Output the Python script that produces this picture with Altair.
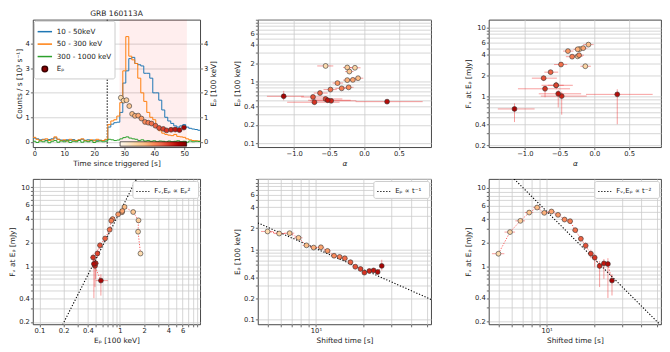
import json
import altair as alt
import pandas as pd

FONT = "DejaVu Sans"
BLUE, ORANGE, GREEN = "#1f77b4", "#ff7f0e", "#2ca02c"
ERR_RED = "#ee3b3b"
GRID = "#cbcbcb"
EDGE = "#333333"

# ---------------- light curves (panel 1) ----------------
lc_time = [-0.5, 0.5, 1.5, 2.5, 3.5, 4.5, 5.5, 6.5, 7.5, 8.5, 9.5, 10.5, 11.5, 12.5,
           13.5, 14.5, 15.5, 16.5, 17.5, 18.5, 19.5, 20.5, 21.5, 22.5, 23.5, 24.5,
           25.5, 26.5, 27.5, 28.5, 29.5, 30.5, 31.5, 32.5, 33.5, 34.5, 35.5, 36.5,
           37.5, 38.5, 39.5, 40.5, 41.5, 42.5, 43.5, 44.5, 45.5, 46.5, 47.5, 48.5,
           49.5, 50.5, 51.5, 52.5, 53.5, 54.5, 55.5]
lc_soft = [0.15, 0.12, 0.08, 0.10, 0.06, 0.09, 0.12, 0.16, 0.10, 0.07, 0.05, 0.08, 0.06,
           0.09, 0.05, 0.07, 0.10, 0.06, 0.08, 0.05, 0.07, 0.04, 0.06, 0.05, 0.08,
           0.60, 0.72, 0.78, 0.80, 1.20, 2.40, 2.90, 3.40, 3.45, 3.20, 3.15, 3.10, 2.80,
           2.80, 2.60, 2.00, 2.00, 1.70, 1.30, 1.00, 0.85, 0.75, 0.65, 0.60, 0.65, 0.70,
           0.60, 0.55, 0.52, 0.50, 0.47, 0.47]
lc_mid = [0.18, 0.10, 0.05, 0.08, 0.12, 0.05, 0.08, 0.20, 0.10, 0.05, 0.08, 0.03, 0.10,
          0.06, 0.04, 0.08, 0.12, 0.05, 0.03, 0.08, 0.04, 0.10, 0.06, 0.05, 0.10,
          0.70, 0.85, 0.90, 1.05, 1.60, 2.90, 4.30, 3.50, 3.35, 3.20, 2.60, 2.00, 1.65,
          1.20, 1.00, 0.90, 0.60, 0.45, 0.35, 0.30, 0.27, 0.25, 0.30, 0.22, 0.20, 0.18,
          0.12, 0.08, 0.05, 0.04, 0.03, 0.03]
lc_hard = [0.02, -0.03, 0.03, 0.00, 0.04, -0.04, 0.02, 0.05, -0.02, 0.03, 0.00, 0.04, -0.03,
           0.02, 0.00, 0.05, -0.02, 0.03, 0.00, 0.04, -0.03, 0.02, 0.03, 0.00, 0.02,
           0.10, 0.08, 0.05, 0.07, 0.12, 0.17, 0.20, 0.15, 0.12, 0.10, 0.05, 0.08, 0.03,
           0.05, 0.02, 0.04, 0.00, 0.03, 0.02, -0.01, 0.03, 0.00, 0.02, 0.04, 0.00, 0.02,
           -0.02, 0.03, 0.00, 0.02, 0.01, 0.01]
bands = ["10 - 50keV", "50 - 300 keV", "300 - 1000 keV"]

trigger_line = [24.3]
window = [28.4, 50.9]
cbar_x = [28.6, 50.8]
cbar_y = [0.0, -0.18]

# ---------------- time-resolved spectral fits (19 intervals) ----------------
idx = [0, 1, 2, 3, 4, 5, 6, 7, 8, 9, 10, 11, 12, 13, 14, 15, 16, 17, 18]
t_trig = [28.85, 29.76, 30.72, 31.66, 32.61, 33.57, 34.64, 35.72, 36.90, 38.00,
          39.10, 40.40, 41.60, 43.00, 44.10, 45.60, 47.00, 48.40, 49.90]
t_shift = [4.95, 5.86, 6.82, 7.76, 8.71, 9.67, 10.74, 11.82, 13.0, 14.1,
           15.2, 16.5, 17.7, 19.1, 20.2, 21.7, 23.1, 24.5, 26.0]
t_half = [0.45, 0.45, 0.48, 0.47, 0.48, 0.50, 0.54, 0.56, 0.57, 0.55,
          0.60, 0.62, 0.65, 0.62, 0.65, 0.70, 0.70, 0.70, 0.75]
ep = [1.80, 1.68, 1.70, 1.46, 1.14, 1.06, 1.07, 0.95, 0.81, 0.78,
      0.745, 0.655, 0.565, 0.525, 0.465, 0.49, 0.50, 0.475, 0.58]
ep_lo = [1.70, 1.60, 1.62, 1.40, 1.10, 1.02, 1.03, 0.91, 0.78, 0.75,
         0.71, 0.62, 0.53, 0.49, 0.43, 0.45, 0.46, 0.44, 0.50]
ep_hi = [1.90, 1.76, 1.78, 1.52, 1.18, 1.10, 1.11, 0.99, 0.84, 0.81,
         0.78, 0.69, 0.60, 0.56, 0.50, 0.53, 0.54, 0.51, 0.71]
alpha = [-0.55, -0.13, -0.24, -0.21, -0.085, -0.24, -0.16, -0.38, -0.22, -0.32,
         -0.48, -0.63, -0.73, -0.55, -0.71, -0.47, -0.52, 0.33, -1.15]
a_lo = [-0.67, -0.20, -0.30, -0.27, -0.16, -0.30, -0.22, -0.45, -0.29, -0.41,
        -0.58, -0.72, -0.90, -0.76, -1.10, -0.77, -0.80, -0.12, -1.39]
a_hi = [-0.44, -0.05, -0.17, -0.15, -0.01, -0.17, -0.10, -0.30, -0.15, -0.24,
        -0.39, -0.52, -0.54, -0.31, -0.35, -0.11, -0.19, 0.84, -0.86]
fnu = [1.46, 2.75, 3.82, 4.87, 5.64, 4.83, 5.02, 4.55, 3.97, 3.78,
       2.91, 2.26, 1.85, 1.46, 1.30, 1.02, 1.10, 1.08, 0.665]
f_lo = [1.36, 2.62, 3.65, 4.68, 5.42, 4.63, 4.80, 4.33, 3.75, 3.57,
        2.72, 2.10, 1.68, 1.28, 0.98, 0.55, 0.70, 0.40, 0.43]
f_hi = [1.56, 2.88, 3.99, 5.06, 5.86, 5.03, 5.24, 4.77, 4.19, 3.99,
        3.10, 2.42, 2.02, 1.64, 1.45, 1.18, 1.25, 1.28, 0.80]

# power-law guide lines (amplitude, index)
pl_ep_amp, pl_ep_idx = 4.9, 2.0      # F ~ Ep^2
pl_tep_amp, pl_tep_idx = 10.25, -1.0  # Ep ~ t^-1
pl_tf_amp, pl_tf_idx = 505.0, -2.0    # F ~ t^-2

# ---------------- tables ----------------
lc_df = pd.concat([pd.DataFrame({"band": b, "t": lc_time, "rate": v})
                   for b, v in zip(bands, [lc_soft, lc_mid, lc_hard])])
pts = pd.DataFrame(dict(idx=idx, t_trig=t_trig, t_shift=t_shift, t_half=t_half,
                        ep=ep, ep_lo=ep_lo, ep_hi=ep_hi, alpha=alpha, a_lo=a_lo,
                        a_hi=a_hi, fnu=fnu, f_lo=f_lo, f_hi=f_hi))

# ---------------- scales / axes ----------------
def lin(d):
    return alt.Scale(domain=d, nice=False, zero=False)


def logs(d):
    return alt.Scale(type="log", domain=d, nice=False)


def log_axis(title, values, shown, **kw):
    expr = "indexof(%s, datum.value) >= 0 ? format(datum.value, '~g') : ''" % json.dumps(shown)
    return alt.Axis(title=title, values=values, labelExpr=expr, grid=True, **kw)


V01_10 = [0.1, 0.2, 0.3, 0.4, 0.5, 0.6, 0.7, 0.8, 0.9, 1, 2, 3, 4, 5, 6, 7, 8, 9, 10]
V02_10 = [0.2, 0.3, 0.4, 0.5, 0.6, 0.7, 0.8, 0.9, 1, 2, 3, 4, 5, 6, 7, 8, 9, 10]
V01_9 = [0.1, 0.2, 0.3, 0.4, 0.5, 0.6, 0.7, 0.8, 0.9, 1, 2, 3, 4, 5, 6, 7, 8, 9]
VT = [5, 6, 7, 8, 9, 10, 20, 30, 40, 50]

EP_T = "Eₚ [100 keV]"
F_T = "Fᵥ  at  Eₚ [mJy]"

ax_ep_y = log_axis(EP_T, V01_10, [0.1, 0.2, 0.4, 1, 2, 4, 6])
ax_f_y = log_axis(F_T, V02_10, [0.2, 0.4, 1, 2, 4, 6, 10])
ax_ep_x = log_axis(EP_T, V01_9, [0.1, 0.2, 0.4, 1, 2, 4, 6])
ax_alpha = alt.Axis(title="α", values=[-1.0, -0.5, 0.0, 0.5], format=".1f", grid=True,
                    titleFontStyle="italic")
ax_t = alt.Axis(title="Shifted time [s]", values=VT, grid=True,
                labelExpr="datum.value == 10 ? '10¹' : ''")

color_idx = alt.Color("idx:Q", scale=alt.Scale(scheme="orangered", domain=[0, 18]), legend=None)
PT_SIZE = 24


def points(xf, yf, xs, ys, xax, yax, size=PT_SIZE):
    return alt.Chart(pts).mark_circle(size=size, opacity=1, stroke=EDGE, strokeWidth=0.6).encode(
        x=alt.X(xf, type="quantitative", scale=xs, axis=xax),
        y=alt.Y(yf, type="quantitative", scale=ys, axis=yax),
        color=color_idx)


def hbar(x1, x2, yf, xs, ys, xax, yax, src=None):
    c = alt.Chart(pts) if src is None else src
    return c.mark_rule(color=ERR_RED, strokeWidth=0.9, opacity=0.55, clip=True).encode(
        x=alt.X(x1, type="quantitative", scale=xs, axis=xax),
        x2=alt.X2(x2),
        y=alt.Y(yf, type="quantitative", scale=ys, axis=yax))


def vbar(xf, y1, y2, xs, ys, xax, yax):
    return alt.Chart(pts).mark_rule(color=ERR_RED, strokeWidth=0.9, opacity=0.55, clip=True).encode(
        x=alt.X(xf, type="quantitative", scale=xs, axis=xax),
        y=alt.Y(y1, type="quantitative", scale=ys, axis=yax),
        y2=alt.Y2(y2))


def connector(xf, yf, xs, ys, xax, yax):
    return alt.Chart(pts).mark_line(color="#ff3030", strokeDash=[1.2, 1.6], strokeWidth=1,
                                    opacity=0.8, clip=True).encode(
        x=alt.X(xf, type="quantitative", scale=xs, axis=xax),
        y=alt.Y(yf, type="quantitative", scale=ys, axis=yax),
        order="idx:Q")


def guide(xdom, amp, k, lab, xs, ys, xax, yax):
    df = pd.DataFrame({"x": xdom, "y": [amp * v ** k for v in xdom], "lab": [lab, lab]})
    return alt.Chart(df).mark_line(strokeDash=[1.2, 1.8], strokeWidth=1.1, clip=True).encode(
        x=alt.X("x:Q", scale=xs, axis=xax),
        y=alt.Y("y:Q", scale=ys, axis=yax),
        stroke=alt.Stroke("lab:N", scale=alt.Scale(domain=[lab], range=["black"]),
                          legend=alt.Legend(title=None, orient="top-right", symbolType="stroke",
                                            symbolDash=[1.2, 1.8], symbolStrokeWidth=1.1,
                                            symbolSize=170, labelFontSize=7, padding=3,
                                            offset=2, fillColor="white", strokeColor="#cccccc",
                                            cornerRadius=2)))


W1, W2, W3 = 168, 174, 173
H1, H2 = 128, 146

# ---------------- panel 1 ----------------
x1s = lin([-0.5, 55.3])
y1s = lin([-0.22, 4.99])
x1ax = alt.Axis(title="Time since triggered [s]", values=[0, 10, 20, 30, 40, 50], grid=False)
y1ax = alt.Axis(title="Counts / s [10³ s⁻¹]", values=[0, 1, 2, 3, 4], grid=True)

band = alt.Chart(pd.DataFrame({"a": [window[0]], "b": [window[1]]})).mark_rect(
    color="#ff0000", opacity=0.065).encode(x=alt.X("a:Q", scale=x1s, axis=x1ax), x2="b:Q")
trig = alt.Chart(pd.DataFrame({"t": trigger_line})).mark_rule(
    color="black", strokeDash=[1.5, 1.5], strokeWidth=1).encode(x=alt.X("t:Q", scale=x1s, axis=x1ax))
lines = alt.Chart(lc_df).mark_line(interpolate="step-after", strokeWidth=1, clip=True).encode(
    x=alt.X("t:Q", scale=x1s, axis=x1ax),
    y=alt.Y("rate:Q", scale=y1s, axis=y1ax),
    color=alt.Color("band:N", scale=alt.Scale(domain=bands, range=[BLUE, ORANGE, GREEN]), legend=None))
grad = alt.LinearGradient(gradient="linear", x1=0, x2=1, y1=0, y2=0, stops=[
    alt.GradientStop(color=c, offset=i / 8) for i, c in enumerate(
        ["#fff7ec", "#fee8c8", "#fdd49e", "#fdbb84", "#fc8d59", "#ef6548", "#d7301f", "#b30000", "#7f0000"])])
cbar = alt.Chart(pd.DataFrame({"x0": [cbar_x[0]], "x1": [cbar_x[1]], "y0": [cbar_y[0]], "y1": [cbar_y[1]]})
                 ).mark_rect(color=grad, stroke="black", strokeWidth=0.6).encode(
    x=alt.X("x0:Q", scale=x1s, axis=x1ax), x2="x1:Q",
    y=alt.Y("y0:Q", scale=y1s, axis=y1ax), y2="y1:Q")

# legend-only layer (its marks fall outside the plot and are clipped)
SMALL_DOT = "M0.38,0A0.38,0.38,0,1,1,-0.38,0A0.38,0.38,0,1,1,0.38,0Z"
leg_lab = bands + ["Eₚ"]
leg_df = pd.DataFrame({"lab": leg_lab, "lx": [-50, -50, -50, -50], "ly": [0, 0, 0, 0]})
L1 = alt.Legend(title=None, orient="top-left", offset=1, padding=3, labelFontSize=7.2,
                fillColor="white", strokeColor="#cccccc", cornerRadius=2, rowPadding=0.5,
                labelOffset=4, symbolSize=210)
legend_layer = alt.Chart(leg_df).mark_point(clip=True, opacity=1, filled=True, size=210).encode(
    x=alt.X("lx:Q", scale=x1s, axis=x1ax),
    y=alt.Y("ly:Q", scale=y1s, axis=y1ax),
    fill=alt.Fill("lab:N", scale=alt.Scale(domain=leg_lab, range=[BLUE, ORANGE, GREEN, "#8b0000"]), legend=L1),
    stroke=alt.Stroke("lab:N", scale=alt.Scale(domain=leg_lab, range=[BLUE, ORANGE, GREEN, "#3a0000"]), legend=L1),
    shape=alt.Shape("lab:N", scale=alt.Scale(domain=leg_lab, range=["stroke", "stroke", "stroke", SMALL_DOT]), legend=L1),
    strokeWidth=alt.StrokeWidth("lab:N", scale=alt.Scale(domain=leg_lab, range=[1.5, 1.5, 1.5, 0.5]), legend=L1))

p1_left = alt.layer(band, trig, lines, cbar, legend_layer)
p1_right = alt.Chart(pts).mark_circle(size=PT_SIZE, opacity=1, stroke=EDGE, strokeWidth=0.6).encode(
    x=alt.X("t_trig:Q", scale=x1s, axis=x1ax),
    y=alt.Y("ep:Q", scale=lin([-0.22, 4.99]),
            axis=alt.Axis(orient="right", title=EP_T, values=[0, 1, 2, 3, 4], grid=False,
                          titleAngle=270, titleBaseline="top")),
    color=color_idx)
p1 = alt.layer(p1_left, p1_right).resolve_scale(y="independent", color="independent").properties(
    width=W1, height=H1,
    title=alt.TitleParams("GRB 160113A", fontSize=7.6, offset=2, font=FONT, fontWeight="normal", color="#222"))

# ---------------- panel 2: alpha vs Ep ----------------
xa = lin([-1.52, 0.96])
y2s = logs([0.087, 10.1])
p2 = alt.layer(
    hbar("a_lo", "a_hi", "ep", xa, y2s, ax_alpha, ax_ep_y),
    vbar("alpha", "ep_lo", "ep_hi", xa, y2s, ax_alpha, ax_ep_y),
    points("alpha", "ep", xa, y2s, ax_alpha, ax_ep_y),
).properties(width=W2, height=H1)

# ---------------- panel 3: alpha vs F ----------------
y3s = logs([0.187, 12.9])
p3 = alt.layer(
    hbar("a_lo", "a_hi", "fnu", xa, y3s, ax_alpha, ax_f_y),
    vbar("alpha", "f_lo", "f_hi", xa, y3s, ax_alpha, ax_f_y),
    points("alpha", "fnu", xa, y3s, ax_alpha, ax_f_y),
).properties(width=W3, height=H1)

# ---------------- panel 4: Ep vs F ----------------
x4d = [0.083, 9.9]
x4s = logs(x4d)
y4s = logs([0.187, 12.7])
p4 = alt.layer(
    hbar("ep_lo", "ep_hi", "fnu", x4s, y4s, ax_ep_x, ax_f_y),
    vbar("ep", "f_lo", "f_hi", x4s, y4s, ax_ep_x, ax_f_y),
    connector("ep", "fnu", x4s, y4s, ax_ep_x, ax_f_y),
    guide(x4d, pl_ep_amp, pl_ep_idx, "Fᵥ,Eₚ  ∝  Eₚ²", x4s, y4s, ax_ep_x, ax_f_y),
    points("ep", "fnu", x4s, y4s, ax_ep_x, ax_f_y),
).properties(width=W1, height=H2)

# ---------------- panel 5: shifted time vs Ep ----------------
tdom = [4.3, 53.2]
ts = logs(tdom)
y5s = logs([0.085, 10.1])
tsrc = alt.Chart(pts).transform_calculate(t_lo="datum.t_shift - datum.t_half",
                                          t_hi="datum.t_shift + datum.t_half")
p5 = alt.layer(
    hbar("t_lo", "t_hi", "ep", ts, y5s, ax_t, ax_ep_y, src=tsrc),
    vbar("t_shift", "ep_lo", "ep_hi", ts, y5s, ax_t, ax_ep_y),
    connector("t_shift", "ep", ts, y5s, ax_t, ax_ep_y),
    guide(tdom, pl_tep_amp, pl_tep_idx, "Eₚ  ∝  t⁻¹", ts, y5s, ax_t, ax_ep_y),
    points("t_shift", "ep", ts, y5s, ax_t, ax_ep_y),
).properties(width=W2, height=H2)

# ---------------- panel 6: shifted time vs F ----------------
y6s = logs([0.185, 13.0])
p6 = alt.layer(
    hbar("t_lo", "t_hi", "fnu", ts, y6s, ax_t, ax_f_y, src=tsrc),
    vbar("t_shift", "f_lo", "f_hi", ts, y6s, ax_t, ax_f_y),
    connector("t_shift", "fnu", ts, y6s, ax_t, ax_f_y),
    guide(tdom, pl_tf_amp, pl_tf_idx, "Fᵥ,Eₚ  ∝  t⁻²", ts, y6s, ax_t, ax_f_y),
    points("t_shift", "fnu", ts, y6s, ax_t, ax_f_y),
).properties(width=W3, height=H2)

chart = alt.concat(
    p1, p2, p3, p4, p5, p6, columns=3, spacing={"row": 32, "column": 58}, bounds="flush",
    padding={"left": 0, "top": 0, "right": 0, "bottom": 0},
).resolve_scale(
    color="independent", stroke="independent", fill="independent", shape="independent",
    strokeWidth="independent",
).configure(font=FONT).configure_axis(
    labelFontSize=6.8, titleFontSize=7.4, labelFont=FONT, titleFont=FONT,
    labelColor="#222222", titleColor="#222222", titleFontWeight="normal",
    tickColor="#333333", tickSize=2.5, tickWidth=0.7, labelPadding=1, titlePadding=2,
    domain=False, gridColor=GRID, gridWidth=0.8, gridOpacity=1,
    labelFlush=False, labelOverlap=False,
).configure_view(stroke="#333333", strokeWidth=0.9).configure_legend(
    labelFont=FONT, labelColor="#222222")

chart.save("out.html", embed_options={"renderer": "svg", "actions": False})
